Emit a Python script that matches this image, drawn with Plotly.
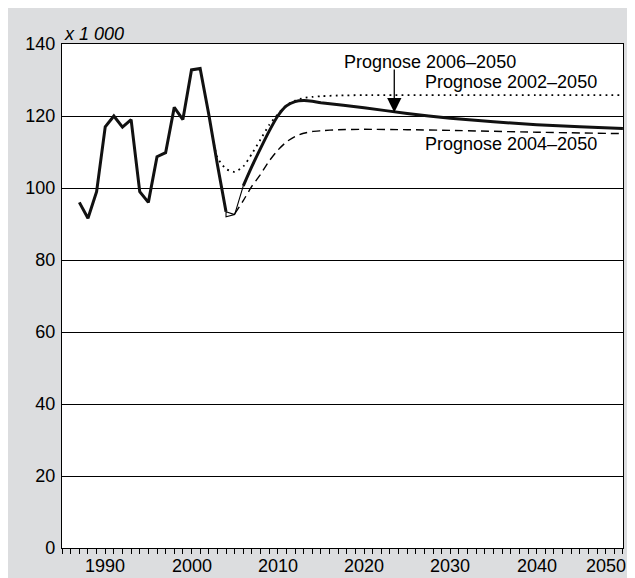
import plotly.graph_objects as go

# ---- data (values in thousands) ----
hist_years = [1987, 1988, 1989, 1990, 1991, 1992, 1993, 1994, 1995, 1996,
              1997, 1998, 1999, 2000, 2001, 2002, 2003, 2004]
hist_vals = [96.0, 91.6, 99.0, 117.0, 120.0, 116.9, 119.0, 99.0, 96.0, 108.7,
             109.8, 122.4, 119.0, 132.8, 133.2, 120.5, 106.5, 93.4]

link_years = [2006, 2005, 2004, 2004, 2005]
link_vals = [100.6, 92.6, 92.0, 93.4, 92.6]

p2006_years = [2006, 2007, 2008, 2009, 2010, 2011, 2012, 2013, 2014, 2015,
               2020, 2025, 2030, 2035, 2040, 2045, 2050]
p2006_vals = [100.6, 106.0, 111.0, 115.8, 120.0, 122.8, 124.0, 124.3, 124.1, 123.7,
              122.3, 120.7, 119.4, 118.4, 117.6, 117.0, 116.5]

p2002_years = [2002, 2003, 2004, 2005, 2006, 2007, 2008, 2009, 2010, 2011,
               2012, 2013, 2014, 2015, 2017, 2020, 2030, 2040, 2050]
p2002_vals = [120.5, 108.5, 105.3, 104.5, 106.0, 109.5, 113.5, 117.5, 120.5, 123.0,
              124.3, 125.0, 125.3, 125.5, 125.7, 125.8, 125.8, 125.8, 125.8]

p2004_years = [2005, 2006, 2007, 2008, 2009, 2010, 2011, 2012, 2013, 2014,
               2015, 2017, 2020, 2025, 2030, 2040, 2050]
p2004_vals = [92.8, 96.5, 100.5, 103.8, 107.5, 110.5, 112.8, 114.3, 115.2, 115.7,
              115.9, 116.2, 116.3, 116.2, 116.0, 115.5, 115.1]

tick_years = list(range(1985, 2051))
label_years = [1990, 2000, 2010, 2020, 2030, 2040, 2050]
label_texts = ["1990", "2000", "2010", "2020", "2030", "2040", "2050"]

labels = ["Prognose 2006\u20132050", "Prognose 2002\u20132050", "Prognose 2004\u20132050"]
unit_label = "x 1 000"

FONT = "Liberation Sans, Arial, Helvetica, sans-serif"
FS = 18

fig = go.Figure()

fig.add_trace(go.Scatter(x=p2002_years, y=p2002_vals, mode="lines",
                         line=dict(color="black", width=1.8, dash="1.8px,4.2px", shape="spline", smoothing=0.6),
                         hoverinfo="skip", showlegend=False))
fig.add_trace(go.Scatter(x=p2004_years, y=p2004_vals, mode="lines",
                         line=dict(color="black", width=1.4, dash="8px,5px", shape="spline", smoothing=0.6),
                         hoverinfo="skip", showlegend=False))
fig.add_trace(go.Scatter(x=link_years, y=link_vals, mode="lines",
                         line=dict(color="black", width=1.1),
                         hoverinfo="skip", showlegend=False))
fig.add_trace(go.Scatter(x=hist_years, y=hist_vals, mode="lines",
                         line=dict(color="#111111", width=3),
                         hoverinfo="skip", showlegend=False))
fig.add_trace(go.Scatter(x=p2006_years, y=p2006_vals, mode="lines",
                         line=dict(color="#111111", width=3, shape="spline", smoothing=0.6),
                         hoverinfo="skip", showlegend=False))

fig.add_annotation(x=2027.6, y=135.1, text=labels[0], showarrow=False,
                   font=dict(family=FONT, size=FS, color="black"))
fig.add_annotation(x=2037.0, y=129.5, text=labels[1], showarrow=False,
                   font=dict(family=FONT, size=FS, color="black"))
fig.add_annotation(x=2037.0, y=112.1, text=labels[2], showarrow=False,
                   font=dict(family=FONT, size=FS, color="black"))
# arrow
fig.add_annotation(x=2023.5, y=121.0, ax=2023.5, ay=133.3, axref="x", ayref="y",
                   text="", showarrow=True, arrowhead=2, arrowsize=2.2,
                   arrowwidth=1.3, arrowcolor="black")
# unit label
fig.add_annotation(xref="paper", yref="paper", x=0.0, y=1.0, xanchor="left", yanchor="bottom",
                   text="<i>" + unit_label + "</i>", showarrow=False, yshift=-2,
                   font=dict(family=FONT, size=FS, color="black"))

# x-axis year labels
for yr, txt in zip(label_years, label_texts):
    last = (yr == label_years[-1])
    fig.add_annotation(x=yr, xref="x", y=0, yref="paper", text=txt, showarrow=False,
                       xanchor="right" if last else "center", yanchor="middle",
                       xshift=5 if last else 0, yshift=-18,
                       font=dict(family=FONT, size=FS, color="black"))

fig.update_layout(
    width=635, height=578,
    margin=dict(l=54, r=20, t=36, b=38, autoexpand=False),
    paper_bgcolor="#dcdddf", plot_bgcolor="white",
    font=dict(family=FONT, size=FS, color="black"),
    xaxis=dict(range=[1984.99, 2050.01], tickmode="array", tickvals=tick_years,
               showticklabels=False,
               ticks="outside", ticklen=5, tickwidth=1, tickcolor="black",
               showgrid=False, zeroline=False, showline=True, linecolor="black",
               linewidth=1.2, mirror=True, automargin=False),
    yaxis=dict(range=[0, 140], dtick=20, tick0=0, showgrid=True, gridcolor="black",
               gridwidth=1, zeroline=False, showline=True, linecolor="black",
               linewidth=1.2, mirror=True, ticks="", ticklabelstandoff=2, automargin=False),
)

fig.write_html("out.html")
